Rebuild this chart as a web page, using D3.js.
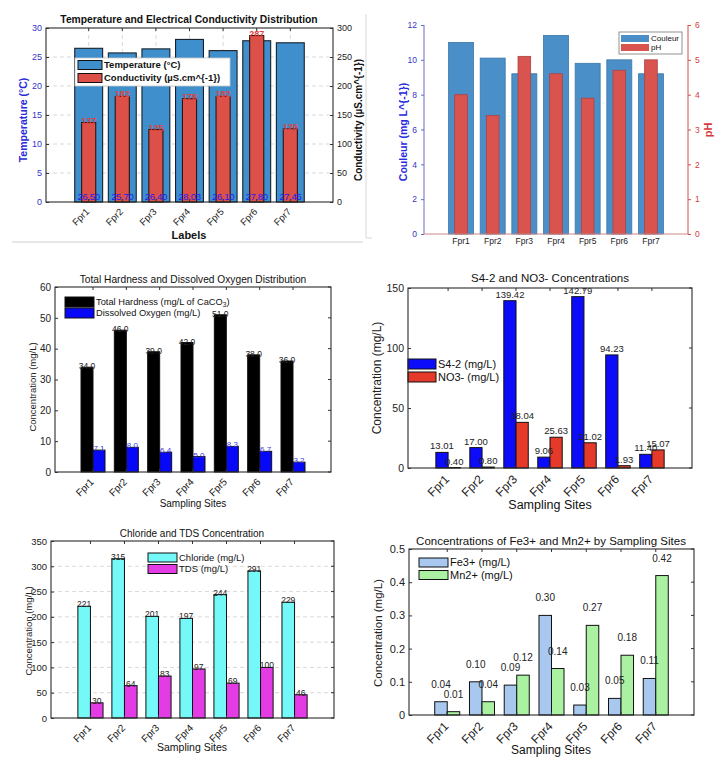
<!DOCTYPE html>
<html>
<head>
<meta charset="utf-8">
<script src="https://cdn.jsdelivr.net/npm/d3@7"></script>
<style>
    body { margin: 0; background: #fff; }
    svg { display: block; }
</style>
</head>
<body>
<div class="svg-container"></div>
<script>
// Sampling sites shared by every panel.
const sites = ["Fpr1", "Fpr2", "Fpr3", "Fpr4", "Fpr5", "Fpr6", "Fpr7"];

// Panel 1: temperature and conductivity.
const temperature = [26.50, 25.70, 26.40, 28.03, 26.10, 27.80, 27.45];
const conductivity = [137, 182, 125, 178, 182, 287, 126];

// Panel 2: colour and pH.
const couleur = [11.0, 10.1, 9.2, 11.4, 9.8, 10.0, 9.2];
const pH = [4.0, 3.4, 5.1, 4.6, 3.9, 4.7, 5.0];

// Panel 3: hardness and dissolved oxygen.
const hardness = [34, 46, 39, 42, 51, 38, 36];
const dissolvedOxygen = [7.1, 8.0, 6.4, 5.0, 8.3, 6.7, 3.2];

// Panel 4: sulfate and nitrate.
const sulfate = [13.01, 17.00, 139.42, 9.06, 142.79, 94.23, 11.40];
const nitrate = [0.40, 0.80, 38.04, 25.63, 21.02, 1.93, 15.07];

// Panel 5: chloride and TDS.
const chloride = [221, 315, 201, 197, 244, 291, 229];
const tds = [30, 64, 83, 97, 69, 100, 46];

// Panel 6: iron and manganese.
const iron = [0.04, 0.10, 0.09, 0.30, 0.03, 0.05, 0.11];
const manganese = [0.01, 0.04, 0.12, 0.14, 0.27, 0.18, 0.42];

// Axis tick values.
const tempTicks = [0, 5, 10, 15, 20, 25, 30];
const condTicks = [0, 50, 100, 150, 200, 250, 300];
const couleurTicks = [0, 2, 4, 6, 8, 10, 12];
const pHTicks = [0, 1, 2, 3, 4, 5, 6];
const hardnessTicks = [0, 10, 20, 30, 40, 50, 60];
const anionTicks = [0, 50, 100, 150];
const chlorideTicks = [0, 50, 100, 150, 200, 250, 300, 350];
const metalTicks = [0, 0.1, 0.2, 0.3, 0.4, 0.5];

const FONT = "'Liberation Sans', Arial, Helvetica, sans-serif";
const W = 727;
const H = 757;

const svg = d3
    .select(".svg-container")
    .append("svg")
    .attr("width", W)
    .attr("height", H)
    .attr("font-family", FONT);

svg.append("rect").attr("width", W).attr("height", H).attr("fill", "#fff");

// Faint screenshot borders around the top panels.
svg.append("line").attr("x1", 12).attr("x2", 363).attr("y1", 242).attr("y2", 242)
    .attr("stroke", "#cfcfcf");
svg.append("path").attr("d", "M366,14V238H372").attr("fill", "none").attr("stroke", "#d8d8d8");

drawTemperaturePanel();
drawCouleurPanel();
drawHardnessPanel();
drawAnionPanel();
drawChloridePanel();
drawMetalPanel();

function bandScale(box, pad) {
    return d3
        .scaleBand()
        .domain(sites)
        .range([box.left, box.right])
        .paddingInner(0)
        .paddingOuter(pad);
}

// Center of a site on a band scale.
function center(x, site) {
    return x(site) + x.bandwidth() / 2;
}

function drawYAxis(g, scale, xPos, orient, ticks, opts) {
    const axis = (orient === "left" ? d3.axisLeft(scale) : d3.axisRight(scale))
        .tickValues(ticks)
        .tickSize(opts.tickSize === undefined ? -3 : opts.tickSize)
        .tickPadding(opts.padding || 4)
        .tickFormat(opts.format || d3.format("~g"));
    const a = g.append("g").attr("transform", "translate(" + xPos + ",0)").call(axis);
    a.attr("font-family", FONT);
    a.select(".domain").remove();
    a.selectAll("line").attr("stroke", opts.tickColor || "#333");
    a.selectAll("text").attr("font-size", opts.fontSize).attr("fill", opts.color || "#222");
    return a;
}

function drawXAxis(g, x, box, opts) {
    const a = g
        .append("g")
        .attr("transform", "translate(0," + box.bottom + ")")
        .call(d3.axisBottom(x).tickSize(opts.tickSize === undefined ? -3 : opts.tickSize).tickPadding(4));
    a.attr("font-family", FONT);
    a.select(".domain").remove();
    a.selectAll("line").attr("stroke", "#333");
    const t = a.selectAll("text").attr("font-size", opts.fontSize).attr("fill", "#222");
    if (opts.rotate) {
        t.attr("text-anchor", "end")
            .attr("y", 0)
            .attr("dy", "0.35em")
            .attr("transform", "translate(-1," + opts.rotate + ") rotate(-45)");
    } else {
        t.attr("y", opts.labelY || 7);
    }
}

// Axes box with mirrored ticks on the top and right edges.
function drawFrame(g, box, x, y, ticks) {
    g.append("g")
        .selectAll("line.top-tick")
        .data(sites)
        .join("line")
        .attr("x1", (d) => center(x, d))
        .attr("x2", (d) => center(x, d))
        .attr("y1", box.top)
        .attr("y2", box.top + 3)
        .attr("stroke", "#333");
    if (y) {
        g.append("g")
            .selectAll("line.right-tick")
            .data(ticks)
            .join("line")
            .attr("x1", box.right)
            .attr("x2", box.right - 3)
            .attr("y1", (d) => y(d))
            .attr("y2", (d) => y(d))
            .attr("stroke", "#333");
    }
    g.append("rect")
        .attr("x", box.left)
        .attr("y", box.top)
        .attr("width", box.right - box.left)
        .attr("height", box.bottom - box.top)
        .attr("fill", "none")
        .attr("stroke", "#2a2a2a")
        .attr("stroke-width", 1.1);
}

function drawYLabel(g, text, xPos, yPos, size, color, bold) {
    g.append("text")
        .attr("transform", "translate(" + xPos + "," + yPos + ") rotate(-90)")
        .attr("text-anchor", "middle")
        .attr("font-size", size)
        .attr("font-weight", bold ? "bold" : "normal")
        .attr("fill", color)
        .text(text);
}

function drawText(g, text, xPos, yPos, size, opts) {
    opts = opts || {};
    return g
        .append("text")
        .attr("x", xPos)
        .attr("y", yPos)
        .attr("text-anchor", opts.anchor || "middle")
        .attr("font-size", size)
        .attr("font-weight", opts.bold ? "bold" : "normal")
        .attr("fill", opts.color || "#111")
        .text(text);
}

// Legend rows: coloured swatch then label; label parts at odd index are subscripts.
function drawLegend(g, o) {
    if (o.box) {
        g.append("rect")
            .attr("x", o.box[0])
            .attr("y", o.box[1])
            .attr("width", o.box[2])
            .attr("height", o.box[3])
            .attr("fill", "#fff")
            .attr("stroke", o.boxStroke || "#999")
            .attr("stroke-width", 0.8);
    }
    o.items.forEach((item, i) => {
        const top = o.y + i * o.rowH;
        g.append("rect")
            .attr("x", o.x)
            .attr("y", top)
            .attr("width", o.swW)
            .attr("height", o.swH)
            .attr("fill", item.color)
            .attr("stroke", o.swStroke || "#111")
            .attr("stroke-width", 1);
        const t = g
            .append("text")
            .attr("x", o.x + o.swW + 2)
            .attr("y", top + o.swH / 2)
            .attr("dy", "0.36em")
            .attr("font-size", o.fontSize)
            .attr("font-weight", o.bold ? "bold" : "normal")
            .attr("fill", "#111");
        item.label.forEach((part, k) => {
            const span = t.append("tspan").text(part);
            if (k % 2 === 1) span.attr("font-size", o.fontSize * 0.7).attr("dy", "0.25em");
            else if (k > 0) span.attr("dy", "-0.25em");
        });
    });
}

function drawGrid(g, box, x, y, ticks, vertical) {
    const grid = g.append("g").attr("stroke", "#d9d9d9").attr("stroke-dasharray", "4,3");
    grid.selectAll("line.h")
        .data(ticks.slice(1, -1))
        .join("line")
        .attr("x1", box.left)
        .attr("x2", box.right)
        .attr("y1", (d) => y(d))
        .attr("y2", (d) => y(d));
    if (vertical) {
        grid.selectAll("line.v")
            .data(sites)
            .join("line")
            .attr("x1", (d) => center(x, d))
            .attr("x2", (d) => center(x, d))
            .attr("y1", box.top)
            .attr("y2", box.bottom);
    }
}

// Two bars side by side around each site center.
function drawGroupedBars(g, x, y, a, b, colors, frac) {
    const bw = x.step() * frac;
    const data = sites.map((s, i) => ({ site: s, a: a[i], b: b[i] }));
    g.append("g")
        .selectAll("rect")
        .data(data)
        .join("rect")
        .attr("x", (d) => center(x, d.site) - bw)
        .attr("y", (d) => y(d.a))
        .attr("width", bw)
        .attr("height", (d) => y(0) - y(d.a))
        .attr("fill", colors[0])
        .attr("stroke", "#111")
        .attr("stroke-width", 1);
    g.append("g")
        .selectAll("rect")
        .data(data)
        .join("rect")
        .attr("x", (d) => center(x, d.site))
        .attr("y", (d) => y(d.b))
        .attr("width", bw)
        .attr("height", (d) => y(0) - y(d.b))
        .attr("fill", colors[1])
        .attr("stroke", "#111")
        .attr("stroke-width", 1);
    return bw;
}

function drawTemperaturePanel() {
    const box = { left: 46, right: 333, top: 28, bottom: 202 };
    const g = svg.append("g").classed("panel-temperature", true);
    const x = bandScale(box, 0.77);
    const yT = d3.scaleLinear().domain([0, 30]).range([box.bottom, box.top]);
    const yC = d3.scaleLinear().domain([0, 300]).range([box.bottom, box.top]);
    const step = x.step();

    drawGrid(g, box, x, yT, tempTicks, true);

    const wide = step * 0.83;
    const thin = step * 0.42;
    g.append("g")
        .selectAll("rect")
        .data(temperature)
        .join("rect")
        .attr("x", (d, i) => center(x, sites[i]) - wide / 2)
        .attr("y", (d) => yT(d))
        .attr("width", wide)
        .attr("height", (d) => yT(0) - yT(d))
        .attr("fill", "#408fcd")
        .attr("stroke", "#16212c")
        .attr("stroke-width", 1.1);
    g.append("g")
        .selectAll("rect")
        .data(conductivity)
        .join("rect")
        .attr("x", (d, i) => center(x, sites[i]) - thin / 2)
        .attr("y", (d) => yC(d))
        .attr("width", thin)
        .attr("height", (d) => yC(0) - yC(d))
        .attr("fill", "#dd5048")
        .attr("stroke", "#2a1614")
        .attr("stroke-width", 1.1);

    // Value labels.
    g.append("g")
        .selectAll("text")
        .data(temperature)
        .join("text")
        .attr("x", (d, i) => center(x, sites[i]))
        .attr("y", yT(0) - 2)
        .attr("text-anchor", "middle")
        .attr("font-size", 9.5)
        .attr("letter-spacing", -0.3)
        .attr("fill", "#1c1cf0")
        .text((d) => d3.format(".2f")(d));
    g.append("g")
        .selectAll("text")
        .data(conductivity)
        .join("text")
        .attr("x", (d, i) => center(x, sites[i]))
        .attr("y", (d) => yC(d) + 1)
        .attr("text-anchor", "middle")
        .attr("font-size", 9)
        .attr("font-weight", "bold")
        .attr("fill", "#e0403c")
        .text((d) => d);

    drawFrame(g, box, x, null, null);
    drawYAxis(g, yT, box.left, "left", tempTicks, { fontSize: 9, color: "#3434c8" });
    drawYAxis(g, yC, box.right, "right", condTicks, { fontSize: 9, color: "#222" });
    drawXAxis(g, x, box, { fontSize: 9.5, rotate: 8 });

    drawLegend(g, {
        box: [75, 58, 155, 28],
        boxStroke: "#c8c8c8",
        x: 78,
        y: 60.5,
        rowH: 13,
        swW: 24,
        swH: 9,
        fontSize: 9.5,
        bold: true,
        items: [
            { color: "#408fcd", label: ["Temperature (°C)"] },
            { color: "#dd5048", label: ["Conductivity (µS.cm^{-1})"] },
        ],
    });

    drawText(g, "Temperature and Electrical Conductivity Distribution", 189, 23, 10.3, { bold: true });
    drawText(g, "Labels", 189, 239, 11, { bold: true });
    drawYLabel(g, "Temperature (°C)", 27, 120, 10.5, "#2a2ad8", true);
    drawYLabel(g, "Conductivity (µS.cm^{-1})", 362, 120, 10, "#111", true);
}

function drawCouleurPanel() {
    const box = { left: 424, right: 688, top: 25, bottom: 234 };
    const g = svg.append("g").classed("panel-couleur", true);
    const x = bandScale(box, 0.67);
    const yL = d3.scaleLinear().domain([0, 12]).range([box.bottom, box.top]);
    const yR = d3.scaleLinear().domain([0, 6]).range([box.bottom, box.top]);
    const step = x.step();
    const wide = step * 0.79;
    const thin = step * 0.4;

    g.append("g")
        .selectAll("rect")
        .data(couleur)
        .join("rect")
        .attr("x", (d, i) => center(x, sites[i]) - wide / 2)
        .attr("y", (d) => yL(d))
        .attr("width", wide)
        .attr("height", (d) => yL(0) - yL(d))
        .attr("fill", "#4a8fc8")
        .attr("stroke", "#3b77a8")
        .attr("stroke-width", 0.8);
    g.append("g")
        .selectAll("rect")
        .data(pH)
        .join("rect")
        .attr("x", (d, i) => center(x, sites[i]) - thin / 2)
        .attr("y", (d) => yR(d))
        .attr("width", thin)
        .attr("height", (d) => yR(0) - yR(d))
        .attr("fill", "#d9534f")
        .attr("stroke", "#a94442")
        .attr("stroke-width", 0.8);

    // Axis lines.
    g.append("line").attr("x1", box.left).attr("x2", box.left).attr("y1", box.top).attr("y2", box.bottom)
        .attr("stroke", "#6a6ac0");
    g.append("line").attr("x1", box.left).attr("x2", box.right).attr("y1", box.bottom).attr("y2", box.bottom)
        .attr("stroke", "#c88");
    g.append("line").attr("x1", box.right).attr("x2", box.right).attr("y1", box.top).attr("y2", box.bottom)
        .attr("stroke", "#d05050");

    drawYAxis(g, yL, box.left, "left", couleurTicks, { fontSize: 8.5, color: "#3535c0", tickColor: "#6a6ac0", tickSize: 3 });
    drawYAxis(g, yR, box.right, "right", pHTicks, { fontSize: 8.5, color: "#d04040", tickColor: "#d05050", tickSize: 3 });
    drawXAxis(g, x, box, { fontSize: 8.5, tickSize: 0, labelY: 4 });

    drawLegend(g, {
        box: [619, 32, 63, 22],
        boxStroke: "#777",
        x: 621,
        y: 35,
        rowH: 9,
        swW: 28,
        swH: 7,
        swStroke: "none",
        fontSize: 8,
        items: [
            { color: "#4a8fc8", label: ["Couleur"] },
            { color: "#d9534f", label: ["pH"] },
        ],
    });

    drawYLabel(g, "Couleur (mg L^{-1})", 407, 132, 10.5, "#2a2ae0", true);
    drawYLabel(g, "pH", 712, 130, 11, "#d83a3a", true);
}

function drawHardnessPanel() {
    const box = { left: 55, right: 331, top: 287, bottom: 472 };
    const g = svg.append("g").classed("panel-hardness", true);
    const x = bandScale(box, 0.64);
    const y = d3.scaleLinear().domain([0, 60]).range([box.bottom, box.top]);

    const bw = drawGroupedBars(g, x, y, hardness, dissolvedOxygen, ["#000", "#0808f8"], 0.36);

    g.append("g")
        .selectAll("text")
        .data(hardness)
        .join("text")
        .attr("x", (d, i) => center(x, sites[i]) - bw / 2)
        .attr("y", (d) => y(d) + 2)
        .attr("text-anchor", "middle")
        .attr("font-size", 8.5)
        .attr("fill", "#222")
        .text((d) => d3.format(".1f")(d));
    g.append("g")
        .selectAll("text")
        .data(dissolvedOxygen)
        .join("text")
        .attr("x", (d, i) => center(x, sites[i]) + bw / 2)
        .attr("y", (d) => y(d) + 1)
        .attr("text-anchor", "middle")
        .attr("font-size", 8)
        .attr("fill", "#3a3ae0")
        .text((d) => d3.format(".1f")(d));

    drawFrame(g, box, x, y, hardnessTicks);
    drawYAxis(g, y, box.left, "left", hardnessTicks, { fontSize: 10 });
    drawXAxis(g, x, box, { fontSize: 10, rotate: 8 });

    drawLegend(g, {
        x: 65,
        y: 297,
        rowH: 11,
        swW: 29,
        swH: 10,
        fontSize: 9.3,
        items: [
            { color: "#000", label: ["Total Hardness (mg/L of CaCO", "3", ")"] },
            { color: "#0808f8", label: ["Dissolved Oxygen (mg/L)"] },
        ],
    });

    drawText(g, "Total Hardness and Dissolved Oxygen Distribution", 193, 283, 10.2);
    drawText(g, "Sampling Sites", 193, 507, 10);
    drawYLabel(g, "Concentration (mg/L)", 36, 387, 9.5, "#222", false);
}

function drawAnionPanel() {
    const box = { left: 408, right: 692, top: 288, bottom: 468 };
    const g = svg.append("g").classed("panel-anion", true);
    const x = bandScale(box, 0.68);
    const y = d3.scaleLinear().domain([0, 150]).range([box.bottom, box.top]);

    const bw = drawGroupedBars(g, x, y, sulfate, nitrate, ["#0c0cfa", "#e5392a"], 0.36);

    g.append("g")
        .selectAll("text")
        .data(sulfate)
        .join("text")
        .attr("x", (d, i) => center(x, sites[i]) - bw / 2)
        .attr("y", (d) => y(d) - 3)
        .attr("text-anchor", "middle")
        .attr("font-size", 9.5)
        .attr("fill", "#222")
        .text((d) => d3.format(".2f")(d));
    g.append("g")
        .selectAll("text")
        .data(nitrate)
        .join("text")
        .attr("x", (d, i) => center(x, sites[i]) + bw / 2)
        .attr("y", (d) => y(d) - 3)
        .attr("text-anchor", "middle")
        .attr("font-size", 9.5)
        .attr("fill", "#222")
        .text((d) => d3.format(".2f")(d));

    drawLegend(g, {
        x: 408,
        y: 359,
        rowH: 13,
        swW: 28,
        swH: 10,
        fontSize: 11,
        items: [
            { color: "#0c0cfa", label: ["S4-2 (mg/L)"] },
            { color: "#e5392a", label: ["NO3- (mg/L)"] },
        ],
    });

    drawFrame(g, box, x, y, anionTicks);
    drawYAxis(g, y, box.left, "left", anionTicks, { fontSize: 10.5 });
    drawXAxis(g, x, box, { fontSize: 12, rotate: 9 });

    drawText(g, "S4-2 and NO3- Concentrations", 550, 282, 11.5);
    drawText(g, "Sampling Sites", 550, 509, 12.5);
    drawYLabel(g, "Concentration (mg/L)", 381, 378, 12, "#222", false);
}

function drawChloridePanel() {
    const box = { left: 51, right: 334, top: 541, bottom: 718 };
    const g = svg.append("g").classed("panel-chloride", true);
    const x = bandScale(box, 0.66);
    const y = d3.scaleLinear().domain([0, 350]).range([box.bottom, box.top]);

    drawGrid(g, box, x, y, chlorideTicks, false);
    const bw = drawGroupedBars(g, x, y, chloride, tds, ["#74f8f8", "#e43ce4"], 0.37);

    g.append("g")
        .selectAll("text")
        .data(chloride)
        .join("text")
        .attr("x", (d, i) => center(x, sites[i]) - bw / 2)
        .attr("y", (d) => y(d) + 1)
        .attr("text-anchor", "middle")
        .attr("font-size", 8.5)
        .attr("fill", "#222")
        .text((d) => d);
    g.append("g")
        .selectAll("text")
        .data(tds)
        .join("text")
        .attr("x", (d, i) => center(x, sites[i]) + bw / 2)
        .attr("y", (d) => y(d) + 1)
        .attr("text-anchor", "middle")
        .attr("font-size", 8.5)
        .attr("fill", "#222")
        .text((d) => d);

    drawFrame(g, box, x, y, chlorideTicks);
    drawYAxis(g, y, box.left, "left", chlorideTicks, { fontSize: 9.5 });
    drawXAxis(g, x, box, { fontSize: 10, rotate: 8 });

    drawLegend(g, {
        x: 148,
        y: 553,
        rowH: 11.5,
        swW: 29,
        swH: 9,
        fontSize: 9.5,
        items: [
            { color: "#74f8f8", label: ["Chloride (mg/L)"] },
            { color: "#e43ce4", label: ["TDS (mg/L)"] },
        ],
    });

    drawText(g, "Chloride and TDS Concentration", 192, 537, 10);
    drawText(g, "Sampling Sites", 192, 751, 10.5);
    drawYLabel(g, "Concentration (mg/L)", 32, 631, 9.5, "#222", false);
}

function drawMetalPanel() {
    const box = { left: 409, right: 694, top: 549, bottom: 715 };
    const g = svg.append("g").classed("panel-metal", true);
    const x = bandScale(box, 0.6);
    const y = d3.scaleLinear().domain([0, 0.5]).range([box.bottom, box.top]);

    const bw = drawGroupedBars(g, x, y, iron, manganese, ["#a8c8f0", "#aaf2a2"], 0.36);

    g.append("g")
        .selectAll("text")
        .data(iron)
        .join("text")
        .attr("x", (d, i) => center(x, sites[i]) - bw / 2)
        .attr("y", (d) => y(d) - 14)
        .attr("text-anchor", "middle")
        .attr("font-size", 10)
        .attr("fill", "#222")
        .text((d) => d3.format(".2f")(d));
    g.append("g")
        .selectAll("text")
        .data(manganese)
        .join("text")
        .attr("x", (d, i) => center(x, sites[i]) + bw / 2)
        .attr("y", (d) => y(d) - 14)
        .attr("text-anchor", "middle")
        .attr("font-size", 10)
        .attr("fill", "#222")
        .text((d) => d3.format(".2f")(d));

    drawFrame(g, box, x, y, metalTicks);
    drawYAxis(g, y, box.left, "left", metalTicks, { fontSize: 11 });
    drawXAxis(g, x, box, { fontSize: 12, rotate: 9 });

    drawLegend(g, {
        x: 419,
        y: 558,
        rowH: 12.5,
        swW: 29,
        swH: 9,
        fontSize: 11,
        items: [
            { color: "#a8c8f0", label: ["Fe3+ (mg/L)"] },
            { color: "#aaf2a2", label: ["Mn2+ (mg/L)"] },
        ],
    });

    drawText(g, "Concentrations of Fe3+ and Mn2+ by Sampling Sites", 551, 545, 11.5);
    drawText(g, "Sampling Sites", 551, 754, 12);
    drawYLabel(g, "Concentration (mg/L)", 382, 633, 11.5, "#222", false);
}
</script>
</body>
</html>
